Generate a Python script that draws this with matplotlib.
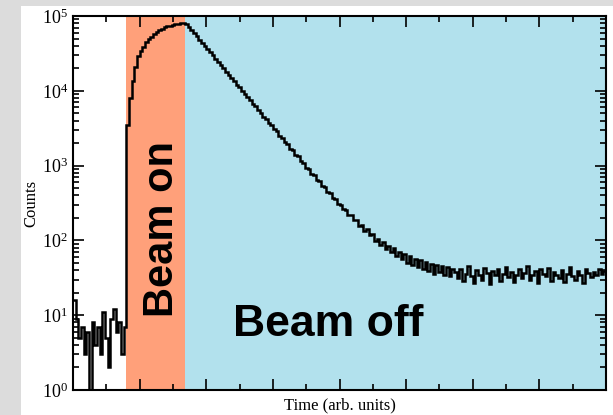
import numpy as np
import matplotlib.pyplot as plt
from matplotlib.patches import Rectangle
from matplotlib.ticker import LogLocator, LogFormatterMathtext, MultipleLocator, NullFormatter

plt.rcParams['mathtext.fontset'] = 'stix'
plt.rcParams['font.family'] = 'Liberation Serif'

# contagens por canal (largura do canal = 0.04)
bin_width = 0.04
pre_beam = [16, 9, 5, 7, 3, 6, 1, 8, 4, 7, 3, 11, 5, 2, 9, 12, 6, 8, 3, 7]
beam_on = [3500, 8000, 13500, 21000, 29000, 34000, 39000, 45000, 49000, 53000,
           57000, 62000, 65000, 68000, 70500, 72500, 74500, 76000, 77500, 78500,
           79500, 80500]
beam_off = [79000,
            72000, 65300, 59000, 53700, 48400, 44100, 39700, 36200, 32600, 29800,
            26700, 24500, 21900, 20100, 17900, 16500, 14700, 13600, 12100, 11200,
            9950, 9150, 8150, 7550, 6700, 6200, 5480, 5120, 4500, 4190,
            3700, 3460, 3040, 2860, 2500, 2350, 2060, 1950, 1690, 1600,
            1390, 1330, 1140, 1090, 940, 905, 780, 752, 640, 622,
            530, 518, 441, 432, 370, 362, 305, 300, 262, 255,
            216, 221, 185, 189, 156, 160, 133, 141, 117, 121,
            99, 106, 88, 95, 77, 84, 70, 78, 62, 71,
            56, 66, 50, 61, 47, 57, 44, 54, 41, 52,
            39, 49, 36, 47, 38, 45, 34, 44, 33, 42,
            38, 31, 42, 29, 36, 45, 33, 27, 40, 35,
            30, 43, 37, 26, 39, 34, 41, 29, 36, 44,
            32, 38, 28, 35, 42, 31, 37, 46, 30, 34,
            39, 27, 41, 36, 33, 43, 29, 38, 35, 31,
            40, 28, 36, 44, 33, 30, 39, 35, 27, 42,
            37, 32, 38, 34, 41, 36, 39]

counts = np.array(pre_beam + beam_on + beam_off, dtype=float)
edges = np.arange(len(counts) + 1) * bin_width
t_on = len(pre_beam) * bin_width
t_off = (len(pre_beam) + len(beam_on)) * bin_width

fig = plt.figure(figsize=(6.13, 4.15), dpi=100, facecolor='#dcdcdc')
fig.patches.append(Rectangle((21 / 613, 0), 1, (415 - 6) / 415, transform=fig.transFigure,
                             facecolor='white', edgecolor='none', zorder=-1))
ax = fig.add_axes([73 / 613, 25 / 415, 533 / 613, 374 / 415])

ax.axvspan(t_on, t_off, color='#ffa07a', lw=0, zorder=0)
ax.axvspan(t_off, 8, color='#b2e1ed', lw=0, zorder=0)
ax.stairs(counts, edges, baseline=None, color='black', lw=1.8, zorder=2)

ax.set_yscale('log')
ax.set_xlim(0, 8)
ax.set_ylim(1, 1e5)
ax.xaxis.set_major_locator(MultipleLocator(1))
ax.xaxis.set_minor_locator(MultipleLocator(0.5))
ax.xaxis.set_major_formatter(NullFormatter())
ax.yaxis.set_major_locator(LogLocator(base=10, numticks=10))
ax.yaxis.set_minor_locator(LogLocator(base=10, subs=np.arange(2, 10), numticks=10))
ax.yaxis.set_major_formatter(LogFormatterMathtext())
ax.yaxis.set_minor_formatter(NullFormatter())
ax.tick_params(which='both', direction='in', top=True, right=True, width=1.2, labelsize=13)
ax.tick_params(which='major', length=8)
ax.tick_params(which='minor', length=4.5)
for s in ax.spines.values():
    s.set_linewidth(1.5)

ax.set_xlabel('Time (arb. units)', fontsize=12, labelpad=2)
ax.set_ylabel('Counts', fontsize=12, labelpad=2)

ax.text(0.1885, 0.43, 'Beam on', transform=ax.transAxes, rotation=90, rotation_mode='anchor',
        ha='center', va='baseline', fontsize=30, fontweight='bold', family='Liberation Sans')
ax.text(0.479, 0.144, 'Beam off', transform=ax.transAxes, ha='center', va='baseline',
        fontsize=32, fontweight='bold', family='Liberation Sans')

fig.savefig('out.png', dpi=100, facecolor=fig.get_facecolor())
